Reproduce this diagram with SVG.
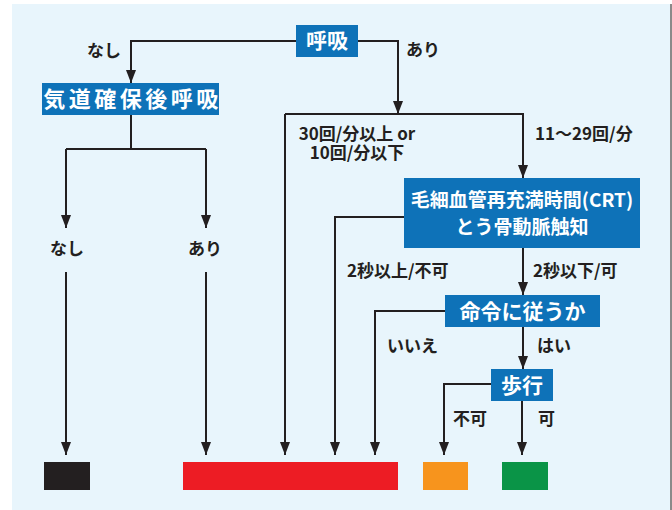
<svg xmlns="http://www.w3.org/2000/svg" width="672" height="510" viewBox="0 0 672 510">
<defs>
<style>
.node rect{fill:#0e72b8}
.nt{fill:#ffffff;font-family:"Noto Sans CJK JP","Noto Sans",sans-serif;font-weight:bold;font-size:21px;text-anchor:middle}
.lbl{fill:#231f20;font-family:"Noto Sans CJK JP","Noto Sans",sans-serif;font-weight:bold;font-size:17px}
.c{fill:none;stroke:#231f20;stroke-width:2}
</style>
<marker id="ah" markerUnits="userSpaceOnUse" markerWidth="14" markerHeight="10" viewBox="0 0 14 10" refX="13" refY="5" orient="auto">
<path d="M0,0 L13,5 L0,10 Z" fill="#231f20"/>
</marker>
</defs>
<rect x="12" y="4" width="658" height="506" fill="#e8f5fc"/>
<rect x="670" y="4" width="2" height="506" fill="#8a8a8a"/>

<g id="connectors">
<path class="c" d="M296,41 H131 V83" marker-end="url(#ah)"/>
<path class="c" d="M358,41 H398 V114" marker-end="url(#ah)"/>
<path class="c" d="M285,114 H523 V178" marker-end="url(#ah)"/>
<path class="c" d="M285,114 V455" marker-end="url(#ah)"/>
<path class="c" d="M131,115 V149"/>
<path class="c" d="M66,149 H206"/>
<path class="c" d="M66,149 V228" marker-end="url(#ah)"/>
<path class="c" d="M206,149 V228" marker-end="url(#ah)"/>
<path class="c" d="M66,272 V455" marker-end="url(#ah)"/>
<path class="c" d="M206,272 V455" marker-end="url(#ah)"/>
<path class="c" d="M404,217 H335 V455" marker-end="url(#ah)"/>
<path class="c" d="M523,248 V295" marker-end="url(#ah)"/>
<path class="c" d="M445,311 H375 V455" marker-end="url(#ah)"/>
<path class="c" d="M523,327 V369" marker-end="url(#ah)"/>
<path class="c" d="M491,384 H444 V455" marker-end="url(#ah)"/>
<path class="c" d="M522,401 V455" marker-end="url(#ah)"/>
</g>

<g id="labels">
<text class="lbl" x="104" y="57" text-anchor="middle">なし</text>
<text class="lbl" x="423" y="56" text-anchor="middle">あり</text>
<text class="lbl" x="67" y="255" text-anchor="middle">なし</text>
<text class="lbl" x="205" y="255" text-anchor="middle">あり</text>
<text class="lbl" text-anchor="middle"><tspan x="357" y="140">30回/分以上 or</tspan><tspan x="357" y="159">10回/分以下</tspan></text>
<text class="lbl" x="535" y="140">11〜29回/分</text>
<text class="lbl" x="347" y="277">2秒以上/不可</text>
<text class="lbl" x="533" y="277">2秒以下/可</text>
<text class="lbl" x="387" y="352">いいえ</text>
<text class="lbl" x="537" y="352">はい</text>
<text class="lbl" x="453" y="425">不可</text>
<text class="lbl" x="538" y="425">可</text>
</g>

<g id="n-kokyu" class="node">
<rect x="296" y="25" width="62" height="32"/>
<text class="nt" x="327" y="48">呼吸</text>
</g>
<g id="n-kido" class="node">
<rect x="42" y="83" width="177" height="32"/>
<text class="nt" x="132.5" y="107" style="letter-spacing:3.5px;font-size:22px">気道確保後呼吸</text>
</g>
<g id="n-crt" class="node">
<rect x="404" y="178" width="236" height="70"/>
<text class="nt" x="522" y="207" style="font-size:19px">毛細血管再充満時間(CRT)</text>
<text class="nt" x="522" y="234" style="font-size:19px">とう骨動脈触知</text>
</g>
<g id="n-meirei" class="node">
<rect x="445" y="295" width="155" height="32"/>
<text class="nt" x="522.5" y="319">命令に従うか</text>
</g>
<g id="n-hoko" class="node">
<rect x="491" y="369" width="62" height="32"/>
<text class="nt" x="522" y="393">歩行</text>
</g>

<g id="n-black"><rect x="44" y="462" width="46" height="28" fill="#231f20"/></g>
<g id="n-red"><rect x="183" y="462" width="215" height="28" fill="#ed1c24"/></g>
<g id="n-orange"><rect x="423" y="462" width="45" height="28" fill="#f7941d"/></g>
<g id="n-green"><rect x="502" y="462" width="46" height="28" fill="#0a9447"/></g>
</svg>
